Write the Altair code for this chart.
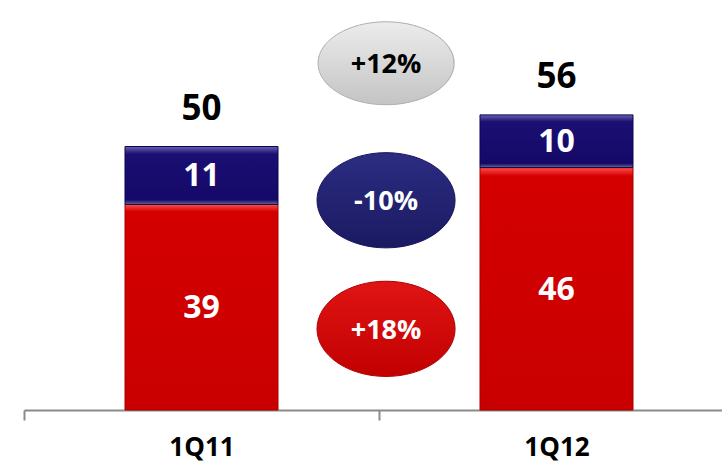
import altair as alt
import pandas as pd

# ---- data ----
quarters = ["1Q11", "1Q12"]
red_values = [39, 46]
navy_values = [11, 10]
totals = [50, 56]

badge_labels = ["+12%", "-10%", "+18%"]
badge_levels = [65.8, 39.8, 15.4]          # vertical anchor in value units
badge_fills = ["gray", "navy", "red"]

FONT = "Open Sans"
Y_MAX = 77.8
BAR_FRACTION = 0.431

bars = pd.DataFrame({"q": quarters, "red": red_values, "navy": navy_values, "total": totals})
bars["navy_top"] = bars["red"] + bars["navy"]
bars["red_mid"] = bars["red"] / 2
bars["navy_mid"] = bars["red"] + bars["navy"] / 2

x_enc = alt.X("q:N", sort=quarters, title=None,
              scale=alt.Scale(domain=quarters, range=[0, 710], paddingInner=0, paddingOuter=0),
              axis=alt.Axis(tickBand="extent", domainColor="#8a8a8a", domainWidth=2,
                            tickColor="#8a8a8a", tickWidth=2, tickSize=10,
                            labelFont=FONT, labelFontSize=26, labelFontWeight="bold",
                            labelColor="#000000", labelPadding=14, labelAngle=0))
y_scale = alt.Scale(domain=[0, Y_MAX], nice=False, zero=True)
x_plain = alt.X("q:N", sort=quarters)

base = alt.Chart(bars)

red_bar = base.mark_bar(
    width=alt.RelativeBandSize(BAR_FRACTION),
    fill=alt.Gradient(gradient="linear", x1=0, x2=0, y1=0, y2=1,
                      stops=[alt.GradientStop(offset=0, color="#ff4d4d"),
                             alt.GradientStop(offset=0.035, color="#d40000"),
                             alt.GradientStop(offset=1, color="#c90000")]),
    stroke="#a80000", strokeWidth=1
).encode(x=x_enc, y=alt.Y("red:Q", scale=y_scale, axis=None), y2=alt.value(410))

navy_bar = base.mark_bar(
    width=alt.RelativeBandSize(BAR_FRACTION),
    fill=alt.Gradient(gradient="linear", x1=0, x2=0, y1=0, y2=1,
                      stops=[alt.GradientStop(offset=0, color="#6a60b0"),
                             alt.GradientStop(offset=0.13, color="#1c0f73"),
                             alt.GradientStop(offset=0.92, color="#140868"),
                             alt.GradientStop(offset=1, color="#6a6a8e")]),
    stroke="#0e0550", strokeWidth=1
).encode(x=x_plain, y=alt.Y("navy_top:Q"), y2="red:Q")

red_text = base.mark_text(font=FONT, fontSize=32, fontWeight="bold", color="white",
                          baseline="middle", dy=1).encode(
    x=x_plain, y="red_mid:Q", text="red:Q")
navy_text = base.mark_text(font=FONT, fontSize=32, fontWeight="bold", color="white",
                           baseline="middle", dy=1).encode(
    x=x_plain, y="navy_mid:Q", text="navy:Q")
total_text = base.mark_text(font=FONT, fontSize=35, fontWeight="bold", color="black",
                            baseline="alphabetic", dy=-27).encode(
    x=x_plain, y="navy_top:Q", text="total:Q")

styles = {
    "gray": dict(top="#ececec", bottom="#c4c4c4", edge="#b0b0b0", text="#000000", ratio=0.61, w=136),
    "navy": dict(top="#2c2c82", bottom="#1a1a62", edge="#14145a", text="#ffffff", ratio=0.69, w=138),
    "red": dict(top="#e01414", bottom="#c20000", edge="#b00000", text="#ffffff", ratio=0.69, w=138),
}

badge_layers = []
for lab, lvl, key in zip(badge_labels, badge_levels, badge_fills):
    s = styles[key]
    r = s["ratio"]
    path = f"M -1 0 A 1 {r} 0 1 1 1 0 A 1 {r} 0 1 1 -1 0 Z"
    bd = pd.DataFrame({"label": [lab], "level": [lvl]})
    bc = alt.Chart(bd)
    shadow = bc.mark_point(filled=True, shape=path, size=s["w"] ** 2, color="#000000",
                           opacity=0.12, dy=4).encode(
        x=alt.value(363), y=alt.Y("level:Q"))
    ell = bc.mark_point(filled=True, shape=path, size=s["w"] ** 2, opacity=1,
                        fill=alt.Gradient(gradient="linear", x1=0, x2=0, y1=0, y2=1,
                                          stops=[alt.GradientStop(offset=0, color=s["top"]),
                                                 alt.GradientStop(offset=1, color=s["bottom"])]),
                        stroke=s["edge"], strokeWidth=1).encode(
        x=alt.value(362), y=alt.Y("level:Q"))
    txt = bc.mark_text(font=FONT, fontSize=27, fontWeight="bold", color=s["text"],
                       baseline="middle", dy=2).encode(
        x=alt.value(362), y=alt.Y("level:Q"), text="label:N")
    badge_layers += [shadow, ell, txt]

chart = alt.layer(red_bar, navy_bar, red_text, navy_text, total_text, *badge_layers).properties(
    width=698, height=410,
    padding={"left": 24, "top": 0, "right": 0, "bottom": 53},
    autosize=alt.AutoSizeParams(type="none"),
    background="white",
).configure_view(stroke=None)

chart.save("out.html", embed_options={"renderer": "svg", "actions": False})
